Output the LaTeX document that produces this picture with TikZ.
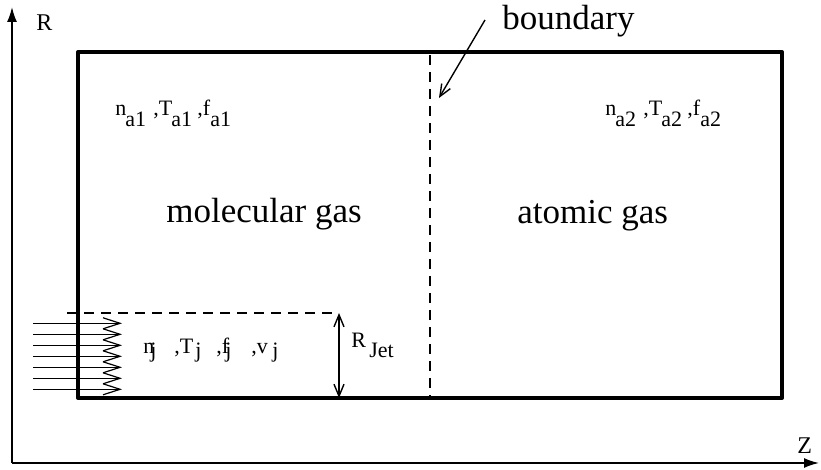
\documentclass[tikz,border=0pt]{standalone}
\usepackage{fontspec}
\setmainfont{Liberation Serif}
\usetikzlibrary{arrows.meta}
\begin{document}
\begin{tikzpicture}[x=0.5pt,y=-0.5pt,
  big/.style={font=\fontsize{17.5}{19}\selectfont, inner sep=0, anchor=base west},
  lab/.style={font=\fontsize{11}{13}\selectfont, inner sep=0, anchor=base west},
  jlab/.style={font=\fontsize{11}{13}\selectfont, inner sep=0, anchor=base west},
  axislab/.style={font=\fontsize{12}{14}\selectfont, inner sep=0, anchor=base west},
  axis/.style={line width=0.8pt},
  wall/.style={line width=2pt, line join=round},
  dashline/.style={line width=0.75pt, dash pattern=on 5pt off 3.5pt},
  thinarrow/.style={line width=0.7pt},
  jetline/.style={line width=0.6pt, -{Straight Barb[length=8.5pt,width=5.5pt,line width=0.6pt]}},
  barb/.tip={Straight Barb[length=6pt,width=5pt,line width=0.7pt]}
]
\useasboundingbox (0,0) rectangle (821,470);

% axes
\coordinate (O) at (12,463);
\coordinate (Rtop) at (12,7);
\coordinate (Zend) at (819,463);
\draw[axis,-{Latex[length=7.5pt,width=5pt]}] (O) -- (Rtop);
\draw[axis,-{Latex[length=7.5pt,width=5pt]}] (O) -- (Zend);
\node[axislab] (Rlab) at (36,31) {R};
\node[axislab] (Zlab) at (797,454) {Z};

% domain
\coordinate (BL) at (78,398);
\coordinate (TR) at (782,52);
\draw[wall] (BL) rectangle (TR);

% boundary
\coordinate (bTop) at (430,55);
\coordinate (bBot) at (430,396);
\draw[dashline] (bTop) -- (bBot);
\node[big] (blab) at (502,30) {boundary};
\coordinate (bs) at (485,20);
\coordinate (be) at (439,98);
\draw[thinarrow,-barb] (bs) -- (be);

% jet region
\coordinate (jd1) at (67,313);
\coordinate (jd2) at (333,313);
\draw[dashline] (jd1) -- (jd2);
\coordinate (rj1) at (339,313);
\coordinate (rj2) at (339,398);
\draw[thinarrow,barb-barb] (rj1) -- (rj2);
\node[jlab] (rjR) at (351,348) {R};
\node[jlab] (rjJ) at (369,358) {Jet};

\foreach \i/\y in {1/323.3,2/334.3,3/345.3,4/356.3,5/367.3,6/378.3,7/389.3}{
  \coordinate (js\i) at (33,\y);
  \coordinate (je\i) at (122,\y);
  \draw[jetline] (js\i) -- (je\i);
}

% state of the ambient gas, left
\node[lab] (n1) at (115,116) {n};
\node[lab] (n1s) at (125,127) {a1};
\node[lab] (T1) at (153,116) {,T};
\node[lab] (T1s) at (171,127) {a1};
\node[lab] (f1) at (197,116) {,f};
\node[lab] (f1s) at (210,127) {a1};
% right
\node[lab] (n2) at (605,116) {n};
\node[lab] (n2s) at (615,127) {a2};
\node[lab] (T2) at (643,116) {,T};
\node[lab] (T2s) at (661,127) {a2};
\node[lab] (f2) at (687,116) {,f};
\node[lab] (f2s) at (700,127) {a2};

\node[big] (mol) at (166,223) {molecular gas};
\node[big] (atom) at (517,224) {atomic gas};

% jet state
\node[jlab] (nj) at (143,354) {n};
\node[jlab] (njs) at (150,358) {j};
\node[jlab] (Tj) at (174,354) {,T};
\node[jlab] (Tjs) at (195,358) {j};
\node[jlab] (fj) at (216,354) {,f};
\node[jlab] (fjs) at (225,358) {j};
\node[jlab] (vj) at (251,354) {,v};
\node[jlab] (vjs) at (272,358) {j};
\end{tikzpicture}
\end{document}
